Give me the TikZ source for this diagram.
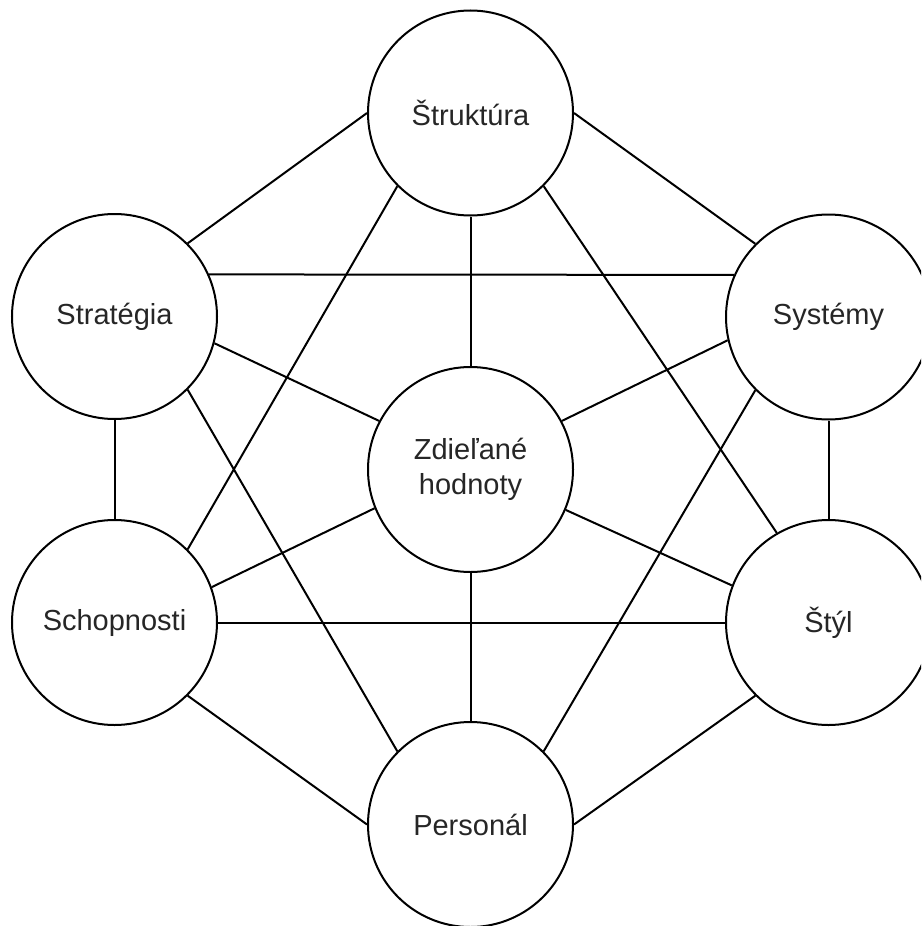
\documentclass[tikz,border=0pt]{standalone}
\usepackage{fontspec}
\setmainfont{Liberation Sans}
\begin{document}
\begin{tikzpicture}[x=1pt,y=-1pt,
  ball/.style={circle, draw=black, line width=2pt, minimum size=205pt, inner sep=0pt,
    fill=white, align=center, text=black!85, font=\fontsize{29}{35}\selectfont},
  link/.style={draw=black, line width=2pt}]
\useasboundingbox (0,0) rectangle (921,926);
\clip (0,0) rectangle (921,926);
\node[ball] (str) at (470.5,113) {Štruktúra};
\node[ball] (strat) at (114.5,316.5) {Stratégia};
\node[ball] (sys) at (828.5,317) {Systémy};
\node[ball] (zd) at (470.5,469.5) {Zdieľané\\hodnoty};
\node[ball] (sch) at (114.5,622.5) {Schopnosti};
\node[ball] (styl) at (828.5,622.5) {Štýl};
\node[ball] (per) at (470.5,824.5) {Personál};
\draw[link] (str.180) -- (strat.45);
\draw[link] (str.0) -- (sys.135);
\draw[link] (str.225) -- (sch.45);
\draw[link] (str.270) -- (zd.90);
\draw[link] (str.315) -- (styl.120);
\draw[link] (strat.24) -- (sys.156);
\draw[link] (strat.-15) -- (zd.152);
\draw[link] (strat.270) -- (sch.90);
\draw[link] (strat.315) -- (per.135);
\draw[link] (sys.193) -- (zd.28.5);
\draw[link] (sys.270) -- (styl.90);
\draw[link] (sys.225) -- (per.45);
\draw[link] (sch.20.6) -- (zd.202);
\draw[link] (sch.0) -- (styl.180);
\draw[link] (sch.315) -- (per.180);
\draw[link] (zd.337) -- (styl.159);
\draw[link] (zd.270) -- (per.90);
\draw[link] (styl.225) -- (per.0);
\end{tikzpicture}
\end{document}
